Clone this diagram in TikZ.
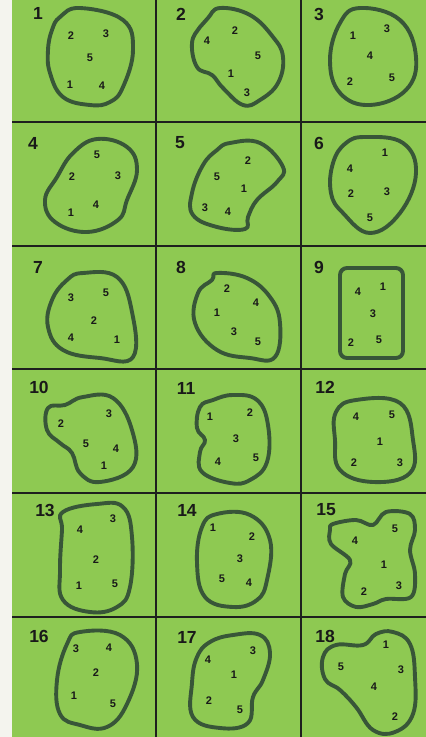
\documentclass[tikz,border=0pt]{standalone}
\usepackage{fontspec}
\setmainfont{Liberation Sans}
\definecolor{cellgreen}{RGB}{142,201,82}
\definecolor{blobline}{RGB}{56,86,56}
\definecolor{gridline}{RGB}{30,32,30}
\definecolor{margin}{RGB}{244,244,238}
\begin{document}
\begin{tikzpicture}[x=1pt,y=-1pt,
  blob/.style={draw=blobline,line width=3.9pt,line join=round},
  num/.style={font=\bfseries\fontsize{11}{13}\selectfont,inner sep=0pt,text=black!90},
  lab/.style={font=\bfseries\fontsize{17.5}{19}\selectfont,inner sep=0pt,text=black!90},
  grid/.style={draw=gridline,line width=2pt}]
\useasboundingbox (0,0) rectangle (426,737);
\fill[margin] (0,0) rectangle (12,737);
\fill[cellgreen] (12,0) rectangle (426,737);
% grid
\draw[grid] (156,0) -- (156,737);
\draw[grid] (301,0) -- (301,737);
\foreach \y in {122,245.5,368.5,492.5,616.5} \draw[grid] (12,\y) -- (426,\y);
% ---- cell 1
\node[lab] (l1) at (38,13) {1};
\draw[blob] plot[smooth cycle,tension=0.7] coordinates {(60,17) (80,8) (123,20) (133,50) (123,87) (110,102) (90,105) (63,97) (50,73) (48,50) (52,30)};
\node[num] (a1) at (71,36) {2}; \node[num] (a2) at (106,34) {3}; \node[num] (a3) at (90,58) {5}; \node[num] (a4) at (70,85) {1}; \node[num] (a5) at (102,86) {4};
% ---- cell 2
\node[lab] (l2) at (181,14) {2};
\draw[blob] plot[smooth cycle,tension=0.7] coordinates {(220,8) (250,15) (273,37) (283,57) (278,83) (260,100) (243,105) (223,88) (212,75) (197,67) (192,43) (200,27) (208,18)};
\node[num] (b1) at (235,31) {2}; \node[num] (b2) at (207,41) {4}; \node[num] (b3) at (258,56) {5}; \node[num] (b4) at (231,74) {1}; \node[num] (b5) at (247,93) {3};
% ---- cell 3
\node[lab] (l3) at (319,14) {3};
\draw[blob] plot[smooth cycle,tension=0.7] coordinates {(360,8) (400,20) (416,57) (406,90) (370,105) (340,93) (330,60) (340,23)};
\node[num] (c1) at (353,36) {1}; \node[num] (c2) at (387,29) {3}; \node[num] (c3) at (370,56) {4}; \node[num] (c4) at (350,82) {2}; \node[num] (c5) at (392,78) {5};
% ---- cell 4
\node[lab] (l4) at (33,143) {4};
\draw[blob] plot[smooth cycle,tension=0.7] coordinates {(97,139) (127,147) (137,170) (127,200) (118,220) (87,232) (55,222) (45,200) (57,177) (73,153)};
\node[num] (d1) at (97,155) {5}; \node[num] (d2) at (72,177) {2}; \node[num] (d3) at (118,176) {3}; \node[num] (d4) at (96,205) {4}; \node[num] (d5) at (71,213) {1};
% ---- cell 5
\node[lab] (l5) at (180,143) {5};
\draw[blob] plot[smooth cycle,tension=0.7] coordinates {(230,143) (260,143) (283,167) (277,182) (257,200) (248,217) (245,229) (217,227) (193,215) (192,193) (203,165) (217,150)};
\node[num] (e1) at (248,161) {2}; \node[num] (e2) at (217,177) {5}; \node[num] (e3) at (244,189) {1}; \node[num] (e4) at (205,208) {3}; \node[num] (e5) at (228,212) {4};
% ---- cell 6
\node[lab] (l6) at (319,143) {6};
\draw[blob] plot[smooth cycle,tension=0.7] coordinates {(366,137) (403,143) (416,173) (400,213) (370,233) (343,213) (331,193) (333,163) (346,143)};
\node[num] (f1) at (385,153) {1}; \node[num] (f2) at (350,169) {4}; \node[num] (f3) at (351,194) {2}; \node[num] (f4) at (387,192) {3}; \node[num] (f5) at (370,218) {5};
% ---- cell 7
\node[lab] (l7) at (38,267) {7};
\draw[blob] plot[smooth cycle,tension=0.7] coordinates {(83,273) (117,277) (132,312) (133,357) (100,358) (63,350) (48,327) (52,300) (67,280)};
\node[num] (g1) at (71,298) {3}; \node[num] (g2) at (106,293) {5}; \node[num] (g3) at (94,321) {2}; \node[num] (g4) at (71,338) {4}; \node[num] (g5) at (117,340) {1};
% ---- cell 8
\node[lab] (l8) at (181,267) {8};
\draw[blob] plot[smooth cycle,tension=0.7] coordinates {(217,273) (247,278) (270,297) (280,323) (275,357) (250,358) (217,350) (195,323) (198,293) (212,280)};
\node[num] (h1) at (227,289) {2}; \node[num] (h2) at (256,303) {4}; \node[num] (h3) at (217,313) {1}; \node[num] (h4) at (234,332) {3}; \node[num] (h5) at (258,342) {5};
% ---- cell 9
\node[lab] (l9) at (319,267) {9};
\draw[blob,rounded corners=7pt] (340,268) rectangle (403,358);
\node[num] (i1) at (358,292) {4}; \node[num] (i2) at (383,287) {1}; \node[num] (i3) at (373,314) {3}; \node[num] (i4) at (351,343) {2}; \node[num] (i5) at (379,340) {5};
% ---- cell 10
\node[lab] (l10) at (39,387) {10};
\draw[blob] plot[smooth cycle,tension=0.7] coordinates {(83,397) (113,398) (132,430) (133,467) (100,482) (80,473) (72,453) (60,443) (47,430) (48,408) (65,405)};
\node[num] (j1) at (109,414) {3}; \node[num] (j2) at (61,424) {2}; \node[num] (j3) at (86,444) {5}; \node[num] (j4) at (116,449) {4}; \node[num] (j5) at (104,466) {1};
% ---- cell 11
\node[lab] (l11) at (186,388) {11};
\draw[blob] plot[smooth cycle,tension=0.7] coordinates {(233,395) (257,400) (268,425) (267,462) (250,480) (230,483) (202,472) (200,452) (205,440) (197,428) (200,407) (213,400)};
\node[num] (k1) at (210,417) {1}; \node[num] (k2) at (250,413) {2}; \node[num] (k3) at (236,439) {3}; \node[num] (k4) at (218,462) {4}; \node[num] (k5) at (256,458) {5};
% ---- cell 12
\node[lab] (l12) at (325,387) {12};
\draw[blob] plot[smooth cycle,tension=0.7] coordinates {(356,400) (400,403) (413,440) (410,473) (373,482) (340,470) (335,440) (336,412)};
\node[num] (m1) at (356,417) {4}; \node[num] (m2) at (392,415) {5}; \node[num] (m3) at (380,442) {1}; \node[num] (m4) at (354,463) {2}; \node[num] (m5) at (400,463) {3};
% ---- cell 13
\node[lab] (l13) at (45,510) {13};
\draw[blob] plot[smooth cycle,tension=0.7] coordinates {(63,512) (97,504) (123,507) (132,537) (130,587) (117,607) (90,612) (63,600) (60,570) (62,530)};
\node[num] (n1) at (80,530) {4}; \node[num] (n2) at (113,519) {3}; \node[num] (n3) at (96,560) {2}; \node[num] (n4) at (79,586) {1}; \node[num] (n5) at (115,584) {5};
% ---- cell 14
\node[lab] (l14) at (187,510) {14};
\draw[blob] plot[smooth cycle,tension=0.7] coordinates {(217,514) (250,515) (270,540) (267,580) (257,600) (233,607) (205,597) (197,563) (202,527)};
\node[num] (o1) at (213,528) {1}; \node[num] (o2) at (252,537) {2}; \node[num] (o3) at (240,559) {3}; \node[num] (o4) at (222,579) {5}; \node[num] (o5) at (249,583) {4};
% ---- cell 15
\node[lab] (l15) at (326,510) {15};
\draw[blob] plot[smooth cycle,tension=0.6] coordinates {(333,524) (356,520) (373,525) (386,512) (410,514) (415,530) (410,550) (415,574) (411,597) (386,599) (373,604) (356,607) (343,597) (345,574) (350,560) (331,544) (330,530)};
\node[num] (p1) at (395,529) {5}; \node[num] (p2) at (355,541) {4}; \node[num] (p3) at (384,565) {1}; \node[num] (p4) at (364,592) {2}; \node[num] (p5) at (399,586) {3};
% ---- cell 16
\node[lab] (l16) at (39,636) {16};
\draw[blob] plot[smooth cycle,tension=0.7] coordinates {(80,632) (120,635) (137,664) (127,704) (107,727) (80,725) (60,714) (57,680) (67,644)};
\node[num] (q1) at (76,649) {3}; \node[num] (q2) at (109,648) {4}; \node[num] (q3) at (96,673) {2}; \node[num] (q4) at (74,696) {1}; \node[num] (q5) at (113,704) {5};
% ---- cell 17
\node[lab] (l17) at (187,637) {17};
\draw[blob] plot[smooth cycle,tension=0.7] coordinates {(233,635) (260,635) (270,653) (263,680) (253,697) (248,723) (220,728) (193,717) (192,683) (197,657) (210,642)};
\node[num] (r1) at (208,660) {4}; \node[num] (r2) at (253,651) {3}; \node[num] (r3) at (234,675) {1}; \node[num] (r4) at (209,701) {2}; \node[num] (r5) at (240,710) {5};
% ---- cell 18
\node[lab] (l18) at (325,636) {18};
\draw[blob] plot[smooth cycle,tension=0.7] coordinates {(393,632) (410,644) (415,677) (413,714) (395,732) (373,730) (356,707) (340,690) (325,679) (323,657) (336,645) (363,645) (376,634)};
\node[num] (s1) at (386,645) {1}; \node[num] (s2) at (341,667) {5}; \node[num] (s3) at (401,670) {3}; \node[num] (s4) at (374,687) {4}; \node[num] (s5) at (395,717) {2};
\end{tikzpicture}
\end{document}
